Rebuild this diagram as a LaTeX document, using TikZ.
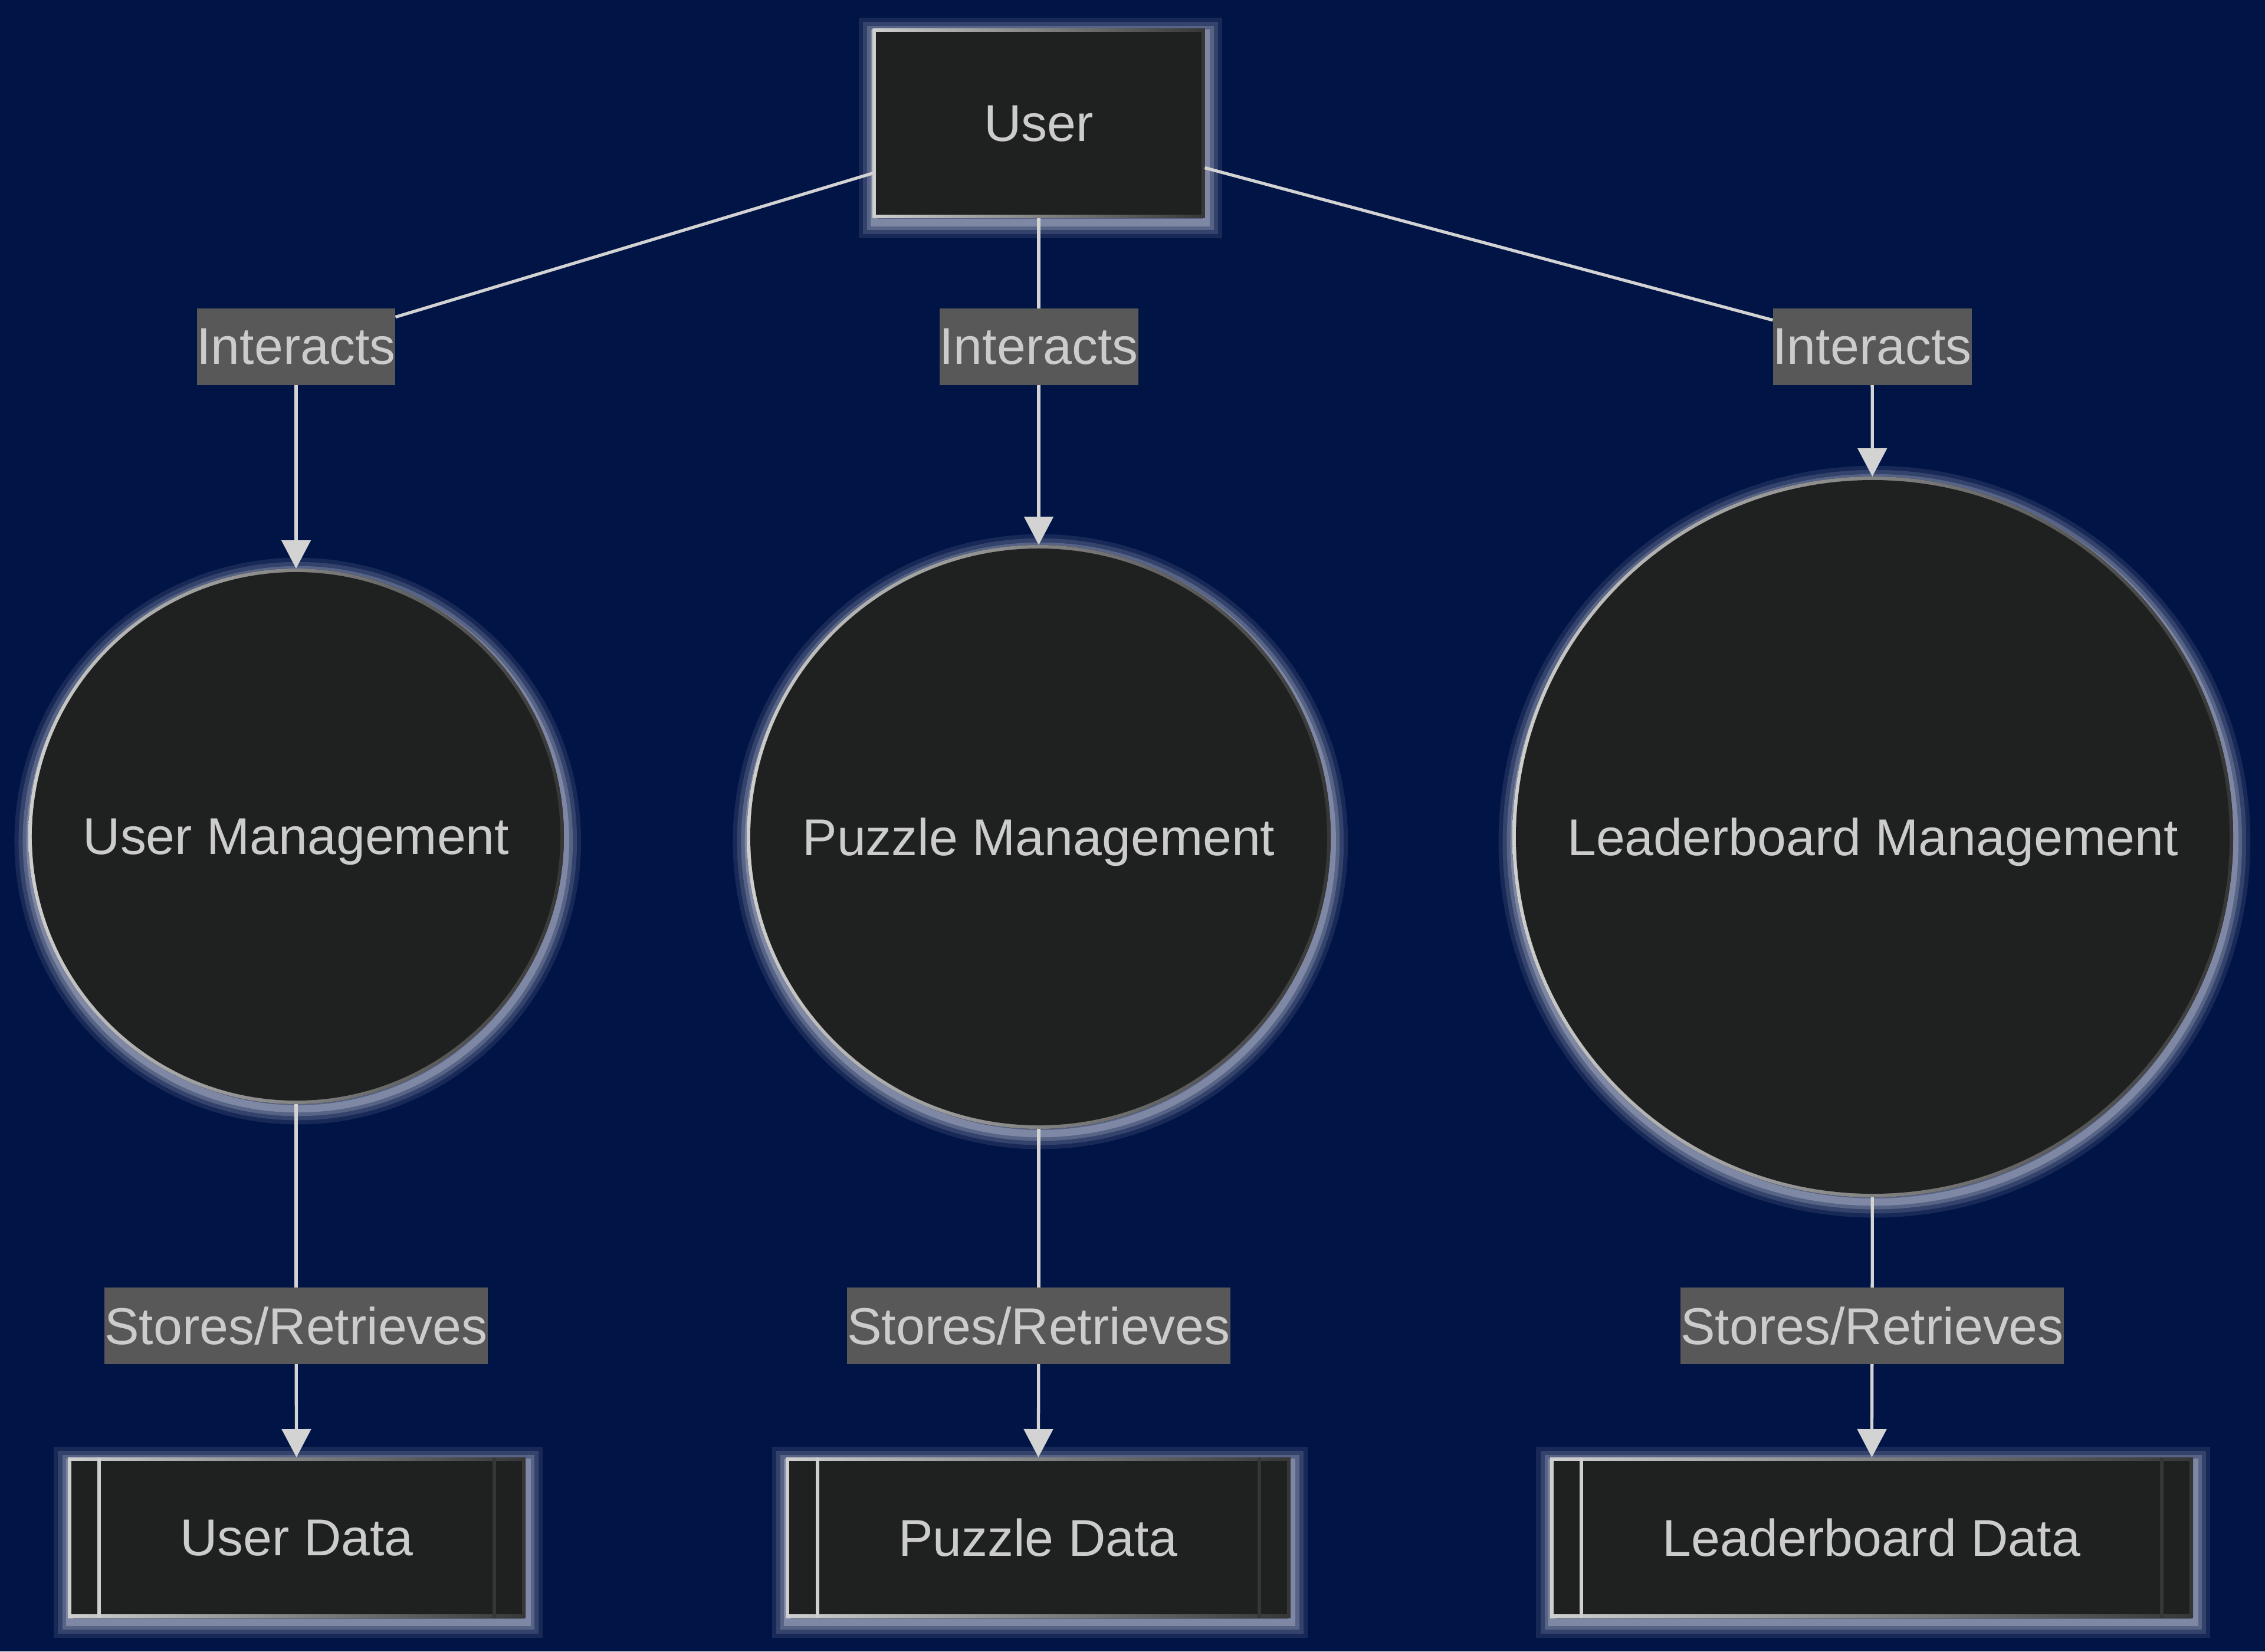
\documentclass[tikz,border=0pt]{standalone}
\usepackage{fontspec}
\setmainfont{Liberation Sans}
\usetikzlibrary{arrows.meta,positioning,shadows}
\definecolor{Night}{HTML}{011446}
\definecolor{Coal}{HTML}{1F2020}
\definecolor{Ash}{HTML}{CCCCCC}
\definecolor{Smoke}{HTML}{585858}
\definecolor{Wire}{HTML}{D3D3D3}
\definecolor{RimLight}{HTML}{CFCFCF}
\definecolor{RimDark}{HTML}{363636}
\definecolor{Halo}{HTML}{E4E8F2}
\newcommand{\bigfont}{\fontsize{25}{30}\selectfont}
\tikzset{
  halo/.style={
    general shadow={draw=Halo, line width=15pt, opacity=0.10, shadow xshift=0.8pt, shadow yshift=-2.3pt},
    general shadow={draw=Halo, line width=11pt, opacity=0.14, shadow xshift=0.8pt, shadow yshift=-2.3pt},
    general shadow={draw=Halo, line width=7pt, opacity=0.2, shadow xshift=0.8pt, shadow yshift=-2.3pt},
    general shadow={draw=Halo, line width=3.5pt, opacity=0.28, shadow xshift=0.8pt, shadow yshift=-2.3pt}},
  procbox/.style={rectangle, minimum width=#1, minimum height=3.21cm, inner sep=0pt,
    outer sep=0pt, fill=Coal, halo, text=Ash, font=\bigfont, text depth=0pt,
    path picture={
      \shade[left color=RimLight, right color=RimDark] (path picture bounding box.south west)
        rectangle (path picture bounding box.north east);
      \fill[Coal] ([shift={(1.7pt,1.7pt)}]path picture bounding box.south west)
        rectangle ([shift={(-1.7pt,-1.7pt)}]path picture bounding box.north east);
    }},
  circbox/.style={circle, minimum size=#1, inner sep=0pt, outer sep=0pt, fill=Coal, halo,
    text=Ash, font=\bigfont, text depth=0pt,
    path picture={
      \shade[left color=RimLight, right color=RimDark] (path picture bounding box.south west)
        rectangle (path picture bounding box.north east);
      \fill[Coal] (path picture bounding box.center) circle [radius=#1/2-1.7pt];
    }},
  databox/.style={rectangle, minimum width=#1, minimum height=2.72cm, inner sep=0pt,
    outer sep=0pt, fill=Coal, halo, text=Ash, font=\bigfont, text depth=0pt,
    path picture={
      \shade[left color=RimLight, right color=RimDark] (path picture bounding box.south west)
        rectangle (path picture bounding box.north east);
      \fill[Coal] ([shift={(1.7pt,1.7pt)}]path picture bounding box.south west)
        rectangle ([shift={(-1.7pt,-1.7pt)}]path picture bounding box.north east);
      \draw[RimLight, line width=1.7pt] ([xshift=0.53cm]path picture bounding box.south west)
        -- ([xshift=0.53cm]path picture bounding box.north west);
      \draw[RimDark, line width=1.7pt] ([xshift=-0.53cm]path picture bounding box.south east)
        -- ([xshift=-0.53cm]path picture bounding box.north east);
    }},
  tag/.style={fill=Smoke, text=Ash, font=\bigfont, inner xsep=0pt, inner ysep=0pt,
    minimum height=1.3cm, outer sep=0pt},
}

\begin{document}
\begin{tikzpicture}[
  wire/.style={draw=Wire, line width=1.5pt},
  flow/.style={wire, -{Triangle[length=0.48cm, width=0.49cm]}},
]
  \useasboundingbox (0,0) rectangle (38.4,-28);
  \fill[Night] (0,0) rectangle (38.4,-28);

  \node[procbox=5.63cm] (user) at (17.61,-2.09) {User};

  % interaction labels
  \node[tag] (int1) at (5.02,-5.88) {Interacts};
  \node[tag] (int2) at (17.61,-5.88) {Interacts};
  \node[tag] (int3) at (31.74,-5.88) {Interacts};

  % processes
  \node[circbox=9.08cm] (usermgmt) at (5.02,-14.18) {User Management};
  \node[circbox=9.90cm] (puzzlemgmt) at (17.61,-14.19) {Puzzle Management};
  \node[circbox=12.22cm] (boardmgmt) at (31.75,-14.19) {Leaderboard Management};

  % storage labels
  \node[tag] (sr1) at (5.02,-22.48) {Stores/Retrieves};
  \node[tag] (sr2) at (17.61,-22.48) {Stores/Retrieves};
  \node[tag] (sr3) at (31.74,-22.48) {Stores/Retrieves};

  % data stores
  \node[databox=7.76cm] (userdata) at (5.03,-26.07) {User Data};
  \node[databox=8.55cm] (puzzledata) at (17.60,-26.07) {Puzzle Data};
  \node[databox=10.90cm] (boarddata) at (31.73,-26.07) {Leaderboard Data};

  \draw[wire] (user) -- (int1);
  \draw[wire] (user) -- (int2);
  \draw[wire] (user) -- (int3);
  \draw[flow] (int1) -- (usermgmt);
  \draw[flow] (int2) -- (puzzlemgmt);
  \draw[flow] (int3) -- (boardmgmt);

  \draw[wire] (usermgmt) -- (sr1);
  \draw[wire] (puzzlemgmt) -- (sr2);
  \draw[wire] (boardmgmt) -- (sr3);
  \draw[flow] (sr1) -- (userdata);
  \draw[flow] (sr2) -- (puzzledata);
  \draw[flow] (sr3) -- (boarddata);
\end{tikzpicture}
\end{document}
